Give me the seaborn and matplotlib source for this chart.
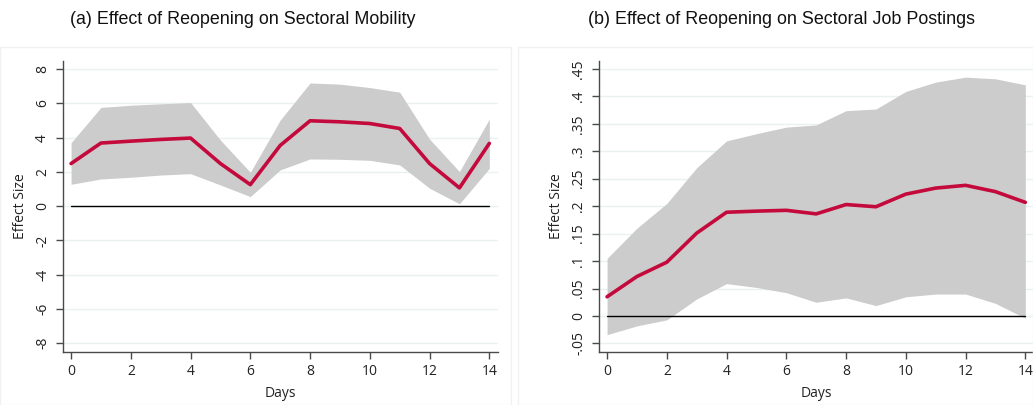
import numpy as np
import pandas as pd
import matplotlib
matplotlib.use("Agg")
import matplotlib.pyplot as plt
from matplotlib.patches import Rectangle
import seaborn as sns

# Event-time horizon
days = list(range(15))

# (a) Sectoral mobility: point estimates and 95% CI bounds
mob_est = [2.49, 3.69, 3.80, 3.90, 3.98, 2.49, 1.26, 3.55, 4.99, 4.93, 4.83, 4.54, 2.49, 1.07, 3.67]
mob_hi = [3.71, 5.77, 5.90, 5.98, 6.06, 3.86, 1.98, 5.03, 7.20, 7.13, 6.93, 6.66, 3.92, 2.02, 5.09]
mob_lo = [1.28, 1.59, 1.69, 1.82, 1.90, 1.24, 0.56, 2.12, 2.76, 2.74, 2.68, 2.41, 1.05, 0.14, 2.21]

# (b) Sectoral job postings: point estimates and 95% CI bounds
job_est = [0.035, 0.072, 0.098, 0.151, 0.189, 0.191, 0.1925, 0.186, 0.203, 0.199, 0.222, 0.233, 0.238, 0.2265, 0.207]
job_hi = [0.105, 0.160, 0.205, 0.270, 0.319, 0.332, 0.344, 0.348, 0.374, 0.377, 0.409, 0.426, 0.435, 0.432, 0.421]
job_lo = [-0.034, -0.018, -0.007, 0.031, 0.059, 0.052, 0.0425, 0.025, 0.033, 0.019, 0.035, 0.040, 0.040, 0.023, -0.004]

x_ticks = [0, 2, 4, 6, 8, 10, 12, 14]
mob_yticks = [-8, -6, -4, -2, 0, 2, 4, 6, 8]
mob_ylabels = ["-8", "-6", "-4", "-2", "0", "2", "4", "6", "8"]
job_yticks = [-0.05, 0, 0.05, 0.1, 0.15, 0.2, 0.25, 0.3, 0.35, 0.4, 0.45]
job_ylabels = ["-.05", "0", ".05", ".1", ".15", ".2", ".25", ".3", ".35", ".4", ".45"]

titles = ["(a) Effect of Reopening on Sectoral Mobility",
          "(b) Effect of Reopening on Sectoral Job Postings"]

sns.set_theme(style="ticks")
plt.rcParams["font.family"] = ["Open Sans", "DejaVu Sans"]

LINE = "#c40a3c"
BAND = "#cccccc"
GRID = "#e9f1f2"
SPINE = "#4a4a4a"

fig = plt.figure(figsize=(10.33, 4.05), dpi=100)

# faint outlines of the two graph regions
for (x0, w) in [(0.0, 511 / 1033), (518 / 1033, 1 - 518 / 1033)]:
    fig.patches.append(Rectangle((x0, 0.0), w, 1 - 47 / 405, transform=fig.transFigure,
                                 fill=False, edgecolor="#f1f1f1", linewidth=1.0))

ax1 = fig.add_axes([62.7 / 1033, 1 - 351.7 / 405, 435 / 1033, 291 / 405])
ax2 = fig.add_axes([598.7 / 1033, 1 - 351.7 / 405, 435 / 1033, 291 / 405])

panels = [
    (ax1, mob_est, mob_lo, mob_hi, mob_yticks, mob_ylabels, (-8.5, 8.5)),
    (ax2, job_est, job_lo, job_hi, job_yticks, job_ylabels, (-0.065, 0.465)),
]

for ax, est, lo, hi, yt, yl, ylim in panels:
    df = pd.DataFrame({"Days": days, "Effect Size": est})
    for v in yt:
        ax.axhline(v, color=GRID, linewidth=1.0, zorder=0)
    ax.fill_between(days, lo, hi, color=BAND, linewidth=0, zorder=1)
    ax.plot([days[0], days[-1]], [0, 0], color="black", linewidth=1.0, zorder=2)
    sns.lineplot(data=df, x="Days", y="Effect Size", ax=ax, color=LINE,
                 linewidth=2.6, zorder=3)
    ax.set_xlim(-0.28, 14.28)
    ax.set_ylim(*ylim)
    ax.set_xticks(x_ticks)
    ax.set_xticklabels([str(t) for t in x_ticks], fontsize=10)
    ax.set_yticks(yt)
    ax.set_yticklabels(yl, fontsize=10, rotation=90, va="center")
    ax.tick_params(axis="both", direction="out", length=5, width=1, color=SPINE,
                   labelcolor="#222222", pad=4)
    ax.set_xlabel("Days", fontsize=10, color="#222222", labelpad=5)
    ax.set_ylabel("Effect Size", fontsize=10, color="#222222", labelpad=5)
    for s in ["top", "right"]:
        ax.spines[s].set_visible(False)
    for s in ["left", "bottom"]:
        ax.spines[s].set_color(SPINE)
        ax.spines[s].set_linewidth(1.0)
    ax.set_facecolor("white")

fig.text(243 / 1033, 1 - 19 / 405, titles[0], ha="center", va="center",
         fontsize=12.9, family=["Liberation Sans", "DejaVu Sans"], color="#111111")
fig.text(782 / 1033, 1 - 19 / 405, titles[1], ha="center", va="center",
         fontsize=12.9, family=["Liberation Sans", "DejaVu Sans"], color="#111111")

fig.savefig("out.png", dpi=100, facecolor="white")
